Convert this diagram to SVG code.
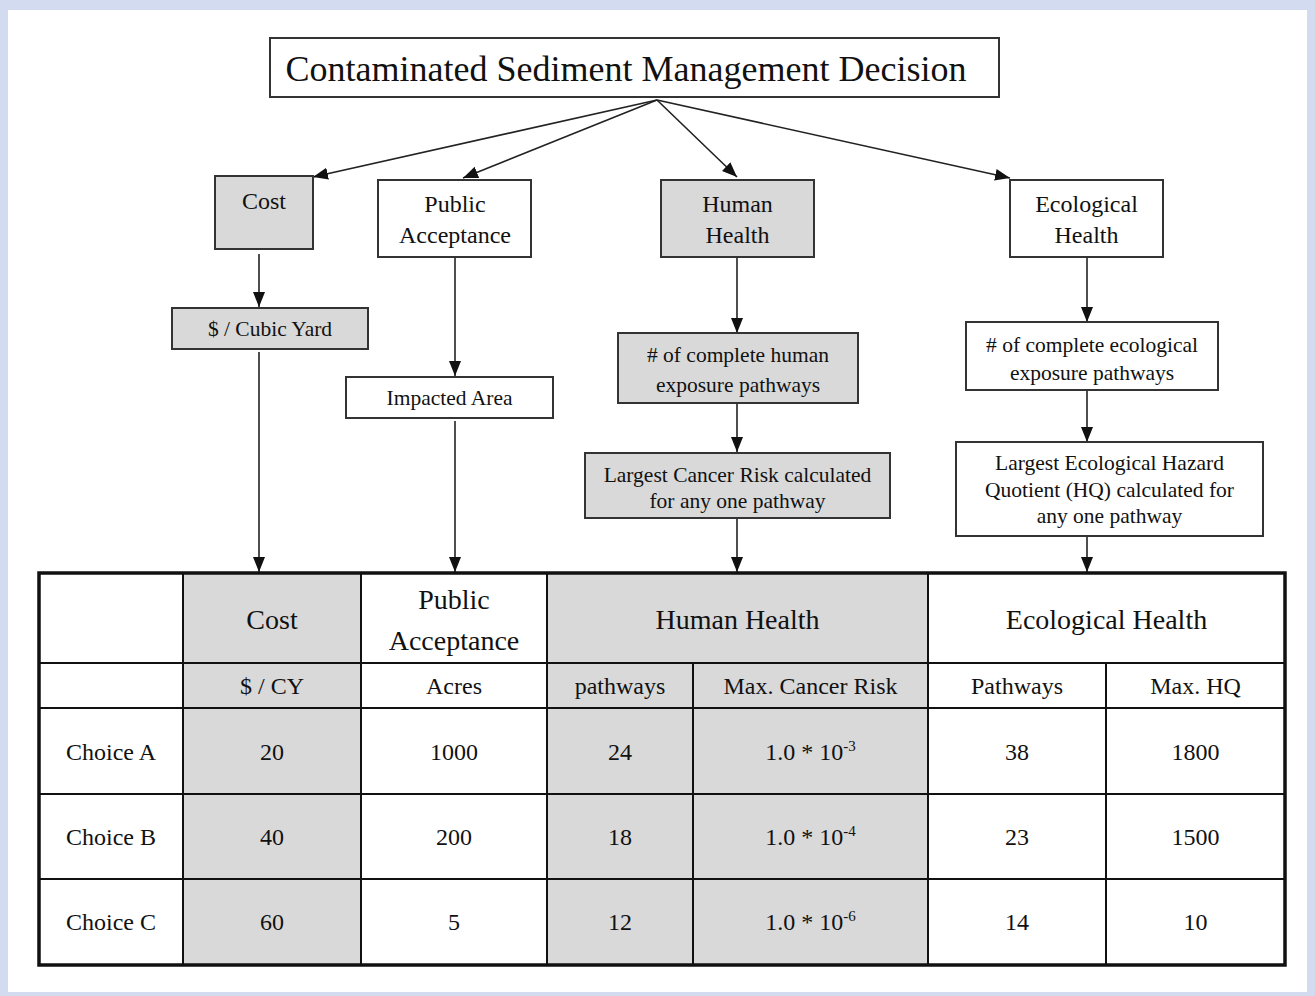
<svg xmlns="http://www.w3.org/2000/svg" width="1315" height="996" viewBox="0 0 1315 996">
<defs>
<marker id="ah" markerUnits="userSpaceOnUse" markerWidth="16" markerHeight="14" viewBox="0 0 16 14" refX="15" refY="7" orient="auto">
<path d="M0,1 L15,7 L0,13 Z" fill="#111"/>
</marker>
<style>
.t{font-family:"Liberation Serif","Times New Roman",serif;fill:#111;text-anchor:middle}
.bx{stroke:#333;stroke-width:2}
.g{fill:#d9d9d9}
.w{fill:#fff}
.c{stroke:#222;stroke-width:1.6;fill:none;marker-end:url(#ah)}
.tl{stroke:#111;stroke-width:2;fill:none}
.f24{font-size:24px}
.f21{font-size:21.5px}
.f28{font-size:28px}
</style>
</defs>
<rect x="0" y="0" width="1315" height="996" fill="#d3dbf1"/>
<rect x="8" y="10" width="1299" height="982" fill="#fff"/>

<g id="connectors">
<line class="c" x1="657" y1="100" x2="313" y2="177"/>
<line class="c" x1="657" y1="100" x2="463" y2="178"/>
<line class="c" x1="657" y1="100" x2="737" y2="177"/>
<line class="c" x1="657" y1="100" x2="1010" y2="178"/>
<line class="c" x1="259" y1="254" x2="259" y2="307"/>
<line class="c" x1="259" y1="352" x2="259" y2="572"/>
<line class="c" x1="455" y1="257" x2="455" y2="376"/>
<line class="c" x1="455" y1="421" x2="455" y2="572"/>
<line class="c" x1="737" y1="257" x2="737" y2="333"/>
<line class="c" x1="737" y1="403" x2="737" y2="452"/>
<line class="c" x1="737" y1="518" x2="737" y2="572"/>
<line class="c" x1="1087" y1="257" x2="1087" y2="322"/>
<line class="c" x1="1087" y1="390" x2="1087" y2="442"/>
<line class="c" x1="1087" y1="536" x2="1087" y2="572"/>
</g>

<g id="title">
<rect class="bx w" x="270" y="38" width="729" height="59"/>
<text class="t" x="626" y="81" font-size="36">Contaminated Sediment Management Decision</text>
</g>
<g id="cost">
<rect class="bx g" x="215" y="176" width="98" height="73"/>
<text class="t f24" x="264" y="209">Cost</text>
</g>
<g id="public-acceptance">
<rect class="bx w" x="378" y="180" width="153" height="77"/>
<text class="t f24" x="455" y="212">Public</text>
<text class="t f24" x="455" y="243">Acceptance</text>
</g>
<g id="human-health">
<rect class="bx g" x="661" y="180" width="153" height="77"/>
<text class="t f24" x="737.5" y="212">Human</text>
<text class="t f24" x="737.5" y="243">Health</text>
</g>
<g id="ecological-health">
<rect class="bx w" x="1010" y="180" width="153" height="77"/>
<text class="t f24" x="1086.5" y="212">Ecological</text>
<text class="t f24" x="1086.5" y="243">Health</text>
</g>
<g id="cubic-yard">
<rect class="bx g" x="172" y="308" width="196" height="41"/>
<text class="t f21" x="270" y="336">$ / Cubic Yard</text>
</g>
<g id="impacted-area">
<rect class="bx w" x="346" y="377" width="207" height="41"/>
<text class="t f21" x="449.5" y="405">Impacted Area</text>
</g>
<g id="human-pathways">
<rect class="bx g" x="618" y="333" width="240" height="70"/>
<text class="t f21" x="738" y="362"># of complete human</text>
<text class="t f21" x="738" y="392">exposure pathways</text>
</g>
<g id="cancer-risk">
<rect class="bx g" x="585" y="453" width="305" height="65"/>
<text class="t f21" x="737.5" y="482">Largest Cancer Risk calculated</text>
<text class="t f21" x="737.5" y="508">for any one pathway</text>
</g>
<g id="eco-pathways">
<rect class="bx w" x="966" y="322" width="252" height="68"/>
<text class="t f21" x="1092" y="352"># of complete ecological</text>
<text class="t f21" x="1092" y="380">exposure pathways</text>
</g>
<g id="eco-hq">
<rect class="bx w" x="956" y="442" width="307" height="94"/>
<text class="t f21" x="1109.5" y="470">Largest Ecological Hazard</text>
<text class="t f21" x="1109.5" y="497">Quotient (HQ) calculated for</text>
<text class="t f21" x="1109.5" y="523">any one pathway</text>
</g>

<g id="table">
<rect x="39" y="573" width="1246" height="392" fill="#fff"/>
<rect class="g" x="183" y="573" width="178" height="392"/>
<rect class="g" x="547" y="573" width="381" height="392"/>
<line class="tl" x1="39" y1="663" x2="1285" y2="663"/>
<line class="tl" x1="39" y1="708" x2="1285" y2="708"/>
<line class="tl" x1="39" y1="794" x2="1285" y2="794"/>
<line class="tl" x1="39" y1="879" x2="1285" y2="879"/>
<line class="tl" x1="183" y1="573" x2="183" y2="965"/>
<line class="tl" x1="361" y1="573" x2="361" y2="965"/>
<line class="tl" x1="547" y1="573" x2="547" y2="965"/>
<line class="tl" x1="693" y1="663" x2="693" y2="965"/>
<line class="tl" x1="928" y1="573" x2="928" y2="965"/>
<line class="tl" x1="1106" y1="663" x2="1106" y2="965"/>
<rect x="39" y="573" width="1246" height="392" fill="none" stroke="#111" stroke-width="3.5"/>

<text class="t f28" x="272" y="629">Cost</text>
<text class="t f28" x="454" y="609">Public</text>
<text class="t f28" x="454" y="650">Acceptance</text>
<text class="t f28" x="737.5" y="629">Human Health</text>
<text class="t f28" x="1106.5" y="629">Ecological Health</text>

<text class="t f24" x="272" y="694">$ / CY</text>
<text class="t f24" x="454" y="694">Acres</text>
<text class="t f24" x="620" y="694">pathways</text>
<text class="t f24" x="810.5" y="694">Max. Cancer Risk</text>
<text class="t f24" x="1017" y="694">Pathways</text>
<text class="t f24" x="1195.5" y="694">Max. HQ</text>

<text class="t f24" x="111" y="760">Choice A</text>
<text class="t f24" x="272" y="760">20</text>
<text class="t f24" x="454" y="760">1000</text>
<text class="t f24" x="620" y="760">24</text>
<text class="t f24" x="810.5" y="760">1.0 * 10<tspan font-size="15" dy="-9">-3</tspan></text>
<text class="t f24" x="1017" y="760">38</text>
<text class="t f24" x="1195.5" y="760">1800</text>

<text class="t f24" x="111" y="845">Choice B</text>
<text class="t f24" x="272" y="845">40</text>
<text class="t f24" x="454" y="845">200</text>
<text class="t f24" x="620" y="845">18</text>
<text class="t f24" x="810.5" y="845">1.0 * 10<tspan font-size="15" dy="-9">-4</tspan></text>
<text class="t f24" x="1017" y="845">23</text>
<text class="t f24" x="1195.5" y="845">1500</text>

<text class="t f24" x="111" y="930">Choice C</text>
<text class="t f24" x="272" y="930">60</text>
<text class="t f24" x="454" y="930">5</text>
<text class="t f24" x="620" y="930">12</text>
<text class="t f24" x="810.5" y="930">1.0 * 10<tspan font-size="15" dy="-9">-6</tspan></text>
<text class="t f24" x="1017" y="930">14</text>
<text class="t f24" x="1195.5" y="930">10</text>
</g>
</svg>
